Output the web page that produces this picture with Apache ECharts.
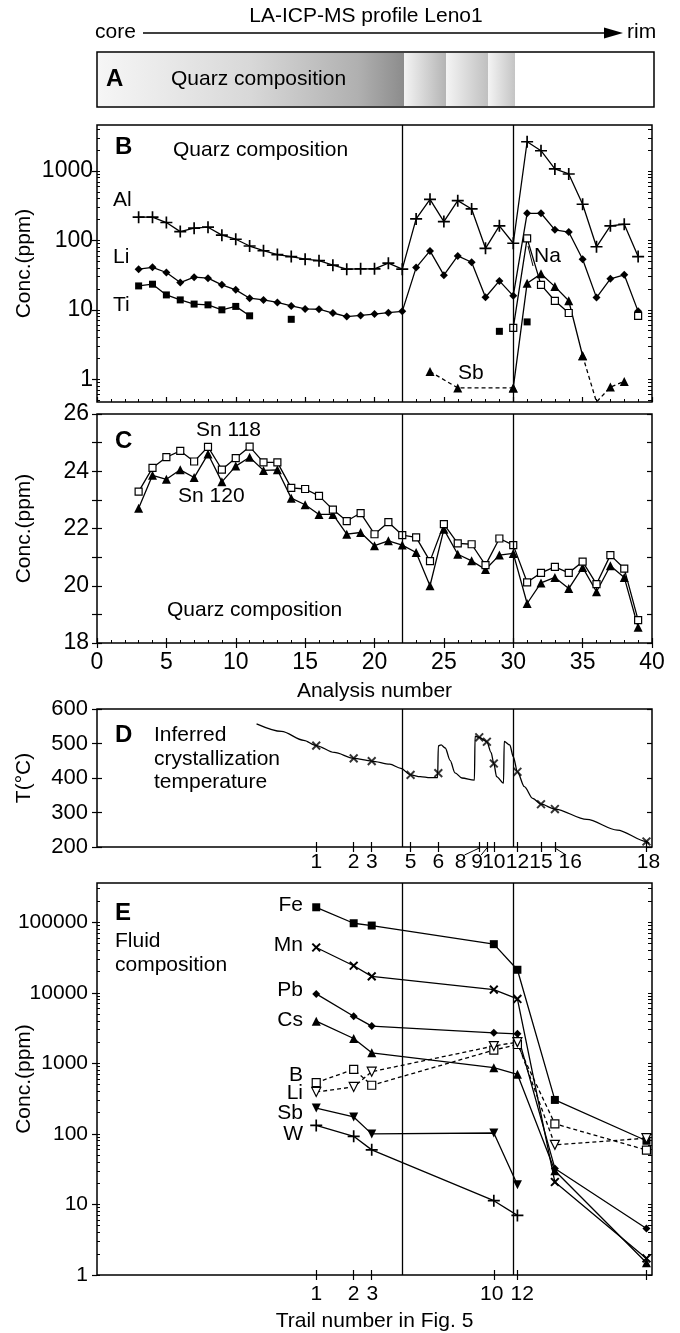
<!DOCTYPE html>
<html><head><meta charset="utf-8">
<script src="https://cdn.jsdelivr.net/npm/echarts@6/dist/echarts.min.js"></script>
<style>html,body{margin:0;padding:0;background:#fff}#c{width:680px;height:1333px}</style>
</head><body><div id="c"></div>
<script>
// ---------------- DATA ----------------
// Panel B / C : analysis numbers along the LA-ICP-MS profile
const analysis = [3,4,5,6,7,8,9,10,11,12,13,14,15,16,17,18,19,20,21,22,23,24,25,26,27,28,29,30,31,32,33,34,35,36,37,38,39];
const bAl = [216,216,181,134,150,155,119,104,83,71,62.5,58.5,53.6,51,44,38.5,39,39,47,38.5,204,391,187,374,284,77,162,91,2640,1960,1070,906,332,81,162,171,58.5];
const bLi = [38.5,41,34.5,24.7,29.5,28.6,22.9,19.4,14.7,13.9,12.8,11.4,10.3,10.2,9.0,8.0,8.3,8.7,9.1,9.5,40.6,70.6,31.6,59.8,48.5,15.2,26.1,15.9,246,246,142,132,53.6,15,28,32,9.5];
const bTi = [22.1,23.4,16.4,13.9,12.1,11.8,10,11.2,8.2,null,null,7.3,null,null,null,null,null,null,null,null,null,null,null,null,null,null,4.9,null,6.7,null,null,null,null,null,null,null,null];
const bNa = [null,null,null,null,null,null,null,null,null,null,null,null,null,null,null,null,null,null,null,null,null,null,null,null,null,null,null,5.5,107,22.9,13.5,9.0,null,null,null,null,8.2];
const bSbX = [24,26,30,31,32,33,34,35,36,37,38];
const bSbY = [1.29,0.75,0.75,24.2,33,21.6,13.5,2.18,0.47,0.77,0.93];
const cSn118 = [23.29,24.12,24.49,24.71,24.34,24.85,24.06,24.46,24.86,24.31,24.31,23.42,23.38,23.14,22.66,22.26,22.54,21.8,22.22,21.77,21.69,20.86,22.15,21.48,21.45,20.72,21.65,21.42,20.12,20.45,20.66,20.45,20.84,20.06,21.07,20.6,18.8];
const cSn120 = [22.71,23.86,23.72,24.05,23.78,24.6,23.63,24.18,24.49,24.03,24.05,23.06,22.83,22.49,22.49,21.8,21.86,21.4,21.57,21.42,21.16,20.0,21.97,21.1,20.87,20.57,21.07,21.13,19.38,20.1,20.29,19.9,20.64,19.79,20.7,20.29,18.55];
const dividers = [22, 30];
// Panel D : inferred crystallization temperature
const dCurveX = [11.5,13.3,14.9,15.8,17.1,18.5,19.8,21.1,21.9,22.6,23.3,24.0,24.55,24.6,24.8,25.1,25.45,25.8,26.3,27.2,27.25,27.55,28.1,28.4,28.6,28.8,29.3,29.35,29.75,30.0,30.3,30.8,31.4,32.0,33.0,35.3,37.5,39.6,39.8];
const dCurveT = [557,535,509,494,474,457,449,440,428,409,404,401,401,493,496,487,451,415,400,394,521,518,505,474,442,404,385,506,496,462,418,375,341,324,310,280,249,216,210];
const dTrail = ['1','2','3','5','6','8','9','10','12','15','16','18'];
const dTrailPos = [15.8,18.5,19.8,22.6,24.6,27.55,28.1,28.6,30.3,32.0,33.0,39.6];
const dTrailT = [494,457,449,409,414,518,505,442,418,324,310,216];
const dTrailLabelPos = [15.8,18.5,19.8,22.6,24.6,26.2,27.4,28.6,30.3,32.0,34.1,39.75];
// Panel E : fluid composition per trail
const eTrail = ['1','2','3','10','12','16','18'];
const eTrailPos = [15.8,18.5,19.8,28.6,30.3,33.0,39.6];
const eAxisTrail = ['1','2','3','10','12'];
const eAxisLabelPos = [15.8,18.5,19.85,28.45,30.65];
const eTickPos = [15.8,18.5,19.8,28.6,30.3,39.6];
const eFe = [163000,96800,89800,48900,21200,303,80];
const eMn = [43900,24200,17100,11100,8180,20.8,1.72];
const ePb = [9640,4660,3370,2710,2620,32.4,4.56];
const eCs = [3960,2250,1410,869,700,30,1.49];
const eB  = [533,822,489,1540,1850,139,59];
const eLi = [393,463,762,1760,2000,70,87];
const eSb = [232,174,100,103,19,null,null];
const eW  = [132,92.5,59.4,11.3,7.0,null,null];

// ---------------- STYLE HELPERS ----------------
const FONT = "'Liberation Sans', Arial, Helvetica, sans-serif";
const txt = {color:'#000', fontFamily:FONT, fontSize:21};
const tk = s => ({color:'#000', fontFamily:FONT, fontSize:s});
const LS = {color:'#000', width:1.2};
const PLUS = 'path://M-0.7,-5L0.7,-5L0.7,-0.7L5,-0.7L5,0.7L0.7,0.7L0.7,5L-0.7,5L-0.7,0.7L-5,0.7L-5,-0.7L-0.7,-0.7Z';
const CROSS = 'path://M-0.9,-5L0.9,-5L0.9,-0.9L5,-0.9L5,0.9L0.9,0.9L0.9,5L-0.9,5L-0.9,0.9L-5,0.9L-5,-0.9L-0.9,-0.9Z';
const pairs = (xs, ys) => xs.map((x, i) => [x, ys[i]]);
const decadeFmt = v => { const l = Math.log10(v); return Math.abs(l - Math.round(l)) < 1e-6 ? String(Math.round(v)) : ''; };
function logTicks(min, max, all) {
  const out = [];
  for (let e = Math.floor(Math.log10(min)); e <= Math.ceil(Math.log10(max)); e++) {
    for (let m = 1; m < 10; m++) {
      if (!all && m > 1) continue;
      const v = m * Math.pow(10, e);
      if (v >= min * 0.999 && v <= max * 1.001) out.push(v);
    }
  }
  return out;
}
function xAx(grid, o) {
  return Object.assign({type:'value', gridIndex:grid, min:0, max:40, position:'bottom',
    axisLine:{show:false}, splitLine:{show:false}, axisLabel:{show:false},
    axisTick:{show:false}, minorTick:{show:false}, nameMoveOverlap:false}, o);
}
function yAx(grid, o) {
  return Object.assign({type:'value', gridIndex:grid, position:'left',
    axisLine:{show:false}, splitLine:{show:false}, axisLabel:{show:false},
    axisTick:{show:false}, minorTick:{show:false}, nameMoveOverlap:false}, o);
}
const BMIN = 0.47, BMAX = 4600, EMIN = 1, EMAX = 360000;
const gridBase = {left:97, width:555, show:true, borderColor:'#000', borderWidth:1.5,
  backgroundColor:'transparent', containLabel:false, outerBoundsMode:'none'};

const dLabelMap = {};
dTrailLabelPos.forEach((p, i) => dLabelMap[p.toFixed(2)] = dTrail[i]);
const eLabelMap = {};
eAxisLabelPos.forEach((p, i) => eLabelMap[p.toFixed(2)] = eAxisTrail[i]);

const divider = {silent:true, symbol:'none', label:{show:false}, lineStyle:{color:'#000', type:'solid', width:1.3},
  data: dividers.map(v => ({xAxis:v}))};

function lineSeries(name, xi, yi, data, sym, o) {
  return Object.assign({type:'line', name, xAxisIndex:xi, yAxisIndex:yi, data,
    symbol:sym.symbol, symbolSize:sym.size, symbolRotate:sym.rotate || 0, showSymbol:true,
    itemStyle:{color: sym.open ? '#fff' : '#000', borderColor:'#000', borderWidth: sym.open ? 1.2 : 0},
    lineStyle:{color:'#000', width:1.3, type: sym.dash ? [4,3] : 'solid'},
    connectNulls:false, animation:false, z:3}, o || {});
}
const S = {
  plus:{symbol:PLUS, size:12}, cross:{symbol:CROSS, size:11, rotate:45},
  diamond:{symbol:'diamond', size:8}, sq:{symbol:'rect', size:7}, osq:{symbol:'rect', size:7, open:true},
  tri:{symbol:'triangle', size:9}, dtri:{symbol:'triangle', size:9, rotate:180},
  odtri:{symbol:'triangle', size:9, rotate:180, open:true}
};

// ---------------- SERIES ----------------
const series = [];
// B
series.push(lineSeries('Al', 0, 0, pairs(analysis, bAl), S.plus, {markLine: divider}));
series.push(lineSeries('Li', 0, 0, pairs(analysis, bLi), S.diamond));
series.push(lineSeries('Ti', 0, 0, pairs(analysis, bTi), S.sq));
series.push(lineSeries('Na', 0, 0, pairs(analysis, bNa), S.osq));
const sbAll = pairs(bSbX, bSbY).map((p, i) => (bSbY[i] <= BMIN ? {value:p, symbol:'none'} : p));
series.push(lineSeries('Sb', 0, 0, sbAll.slice(0, 3), Object.assign({}, S.tri, {dash:true})));
series.push(lineSeries('Sb', 0, 0, sbAll.slice(2, 8), S.tri));
series.push(lineSeries('Sb', 0, 0, sbAll.slice(7), Object.assign({}, S.tri, {dash:true})));
// C
series.push(lineSeries('Sn 120', 1, 3, pairs(analysis, cSn120), S.tri, {markLine: divider}));
series.push(lineSeries('Sn 118', 1, 3, pairs(analysis, cSn118), S.osq));
// D
series.push({type:'line', name:'T', xAxisIndex:3, yAxisIndex:6, data:pairs(dCurveX, dCurveT), showSymbol:false, symbol:'none',
  smooth:0.3, smoothMonotone:'x', lineStyle:{color:'#000', width:1.3}, animation:false, markLine: divider});
series.push({type:'scatter', name:'trail', xAxisIndex:3, yAxisIndex:6, data:pairs(dTrailPos, dTrailT),
  symbol:CROSS, symbolSize:11, symbolRotate:45, itemStyle:{color:'#000'}, animation:false, z:4});
// E
series.push(lineSeries('Fe', 5, 9, pairs(eTrailPos, eFe), Object.assign({}, S.sq, {size:8}), {markLine: divider}));
series.push(lineSeries('Mn', 5, 9, pairs(eTrailPos, eMn), S.cross));
series.push(lineSeries('Pb', 5, 9, pairs(eTrailPos, ePb), S.diamond));
series.push(lineSeries('Cs', 5, 9, pairs(eTrailPos, eCs), S.tri));
series.push(lineSeries('B', 5, 9, pairs(eTrailPos, eB), Object.assign({}, S.osq, {dash:true, size:8})));
series.push(lineSeries('Li', 5, 9, pairs(eTrailPos, eLi), Object.assign({}, S.odtri, {dash:true})));
series.push(lineSeries('Sb', 5, 9, pairs(eTrailPos, eSb), S.dtri));
series.push(lineSeries('W', 5, 9, pairs(eTrailPos, eW), S.plus));

const tickOut = {show:true, inside:false, length:5, lineStyle:LS};
const tickIn = {show:true, inside:true, length:5, lineStyle:LS};
const minorIn = {show:true, splitNumber:5, length:3, lineStyle:{color:'#000', width:1}};
const nameY = {name:'Conc.(ppm)', nameLocation:'middle', nameRotate:90, nameGap:62, nameTextStyle:txt};

const option = {
  animation:false,
  backgroundColor:'#fff',
  grid:[
    Object.assign({top:125, height:277}, gridBase),
    Object.assign({top:414, height:229}, gridBase),
    Object.assign({top:709, height:138}, gridBase),
    Object.assign({top:883, height:392}, gridBase)
  ],
  xAxis:[
    xAx(0, {interval:5, axisTick:tickIn, minorTick:minorIn}),
    xAx(1, {interval:5, axisTick:tickOut, axisLabel:Object.assign({show:true, margin:8, hideOverlap:false}, tk(23)),
      name:'Analysis number', nameLocation:'middle', nameGap:38, nameTextStyle:txt}),
    xAx(1, {interval:5, axisTick:tickIn, minorTick:minorIn}),
    xAx(2, {axisTick:Object.assign({customValues:dTrailPos}, tickOut),
      axisLabel:Object.assign({show:true, margin:5, hideOverlap:false, customValues:dTrailLabelPos, formatter:v => dLabelMap[v.toFixed(2)] || ''}, tk(21))}),
    xAx(2, {axisTick:Object.assign({customValues:dTrailPos}, tickIn)}),
    xAx(3, {axisTick:Object.assign({customValues:eTickPos}, tickOut),
      axisLabel:Object.assign({show:true, margin:9, hideOverlap:false, customValues:eAxisLabelPos, formatter:v => eLabelMap[v.toFixed(2)] || ''}, tk(21)),
      name:'Trail number in Fig. 5', nameLocation:'middle', nameGap:36, nameTextStyle:txt}),
    xAx(3, {axisTick:Object.assign({customValues:eTickPos}, tickIn)})
  ],
  yAxis:[
    yAx(0, Object.assign({type:'log', logBase:10, min:BMIN, max:BMAX,
      axisLabel:Object.assign({show:true, margin:4, formatter:decadeFmt}, tk(23)),
      axisTick:Object.assign({customValues:logTicks(BMIN, BMAX, false)}, tickOut)}, nameY)),
    yAx(0, {type:'log', logBase:10, min:BMIN, max:BMAX, axisTick:{show:true, inside:true, length:3, customValues:logTicks(BMIN, BMAX, true), lineStyle:{color:'#000', width:1}}}),
    yAx(0, {type:'log', logBase:10, min:BMIN, max:BMAX, position:'right', axisTick:{show:true, inside:true, length:4, customValues:logTicks(BMIN, BMAX, true), lineStyle:{color:'#000', width:1}}}),
    yAx(1, Object.assign({min:18, max:26, interval:1,
      axisLabel:Object.assign({show:true, margin:8, formatter:v => (v % 2 === 0 ? String(v) : '')}, tk(23)),
      axisTick:tickOut}, nameY)),
    yAx(1, {min:18, max:26, interval:1, axisTick:tickIn}),
    yAx(1, {min:18, max:26, interval:1, position:'right', axisTick:tickIn}),
    yAx(2, {min:200, max:600, interval:100, axisLabel:Object.assign({show:true, margin:9}, tk(22)), axisTick:tickOut,
      name:'T(°C)', nameLocation:'middle', nameRotate:90, nameGap:62, nameTextStyle:txt}),
    yAx(2, {min:200, max:600, interval:100, axisTick:tickIn}),
    yAx(2, {min:200, max:600, interval:100, position:'right', axisTick:tickIn}),
    yAx(3, Object.assign({type:'log', logBase:10, min:EMIN, max:EMAX,
      axisLabel:Object.assign({show:true, margin:9, formatter:decadeFmt}, tk(21)),
      axisTick:Object.assign({customValues:logTicks(EMIN, EMAX, false)}, tickOut)}, nameY)),
    yAx(3, {type:'log', logBase:10, min:EMIN, max:EMAX, axisTick:{show:true, inside:true, length:3, customValues:logTicks(EMIN, EMAX, true), lineStyle:{color:'#000', width:1}}}),
    yAx(3, {type:'log', logBase:10, min:EMIN, max:EMAX, position:'right', axisTick:{show:true, inside:true, length:4, customValues:logTicks(EMIN, EMAX, true), lineStyle:{color:'#000', width:1}}})
  ],
  series
};

const chart = echarts.init(document.getElementById('c'), null, {renderer:'canvas', width:680, height:1333});
chart.setOption(option);

// ---------------- ANNOTATIONS ----------------
function T(text, x, y, o) {
  o = o || {};
  return {type:'text', z:100, style:{text, x, y, fill:'#000',
    font:(o.bold ? 'bold ' : '') + (o.size || 21) + 'px ' + FONT,
    textAlign:o.align || 'left', textVerticalAlign:'middle', align:o.align || 'left', verticalAlign:'middle'}};
}
function L(x1, y1, x2, y2, w) {
  return {type:'line', z:100, shape:{x1, y1, x2, y2}, style:{stroke:'#000', lineWidth:w || 1.2}};
}
const px = (axisIdx, v) => chart.convertToPixel({xAxisIndex:axisIdx}, v);
const graphic = [
  T('LA-ICP-MS profile Leno1', 366, 16, {align:'center'}),
  T('core', 95, 32),
  L(143, 33, 606, 33, 1.5),
  {type:'polygon', z:100, shape:{points:[[604,27.5],[623,33],[604,38.5]]}, style:{fill:'#000'}},
  T('rim', 627, 32),
  {type:'rect', z:90, shape:{x:98, y:53, width:306, height:53},
    style:{fill:{type:'linear', x:0, y:0, x2:1, y2:0, colorStops:[{offset:0, color:'#f6f6f6'},{offset:0.5, color:'#d8d8d8'},{offset:0.85, color:'#b0b0b0'},{offset:1, color:'#8c8c8c'}]}}},
  {type:'rect', z:90, shape:{x:404, y:53, width:42, height:53},
    style:{fill:{type:'linear', x:0, y:0, x2:1, y2:0, colorStops:[{offset:0, color:'#f4f4f4'},{offset:1, color:'#b4b4b4'}]}}},
  {type:'rect', z:90, shape:{x:446, y:53, width:42, height:53},
    style:{fill:{type:'linear', x:0, y:0, x2:1, y2:0, colorStops:[{offset:0, color:'#f4f4f4'},{offset:1, color:'#c0c0c0'}]}}},
  {type:'rect', z:90, shape:{x:488, y:53, width:27, height:53},
    style:{fill:{type:'linear', x:0, y:0, x2:1, y2:0, colorStops:[{offset:0, color:'#f4f4f4'},{offset:1, color:'#c4c4c4'}]}}},
  {type:'rect', z:95, shape:{x:97, y:52, width:557, height:55}, style:{fill:'none', stroke:'#000', lineWidth:1.5}},
  T('A', 106, 79, {bold:true, size:24}),
  T('Quarz composition', 171, 79),
  // B
  T('B', 115, 147, {bold:true, size:24}),
  T('Quarz composition', 173, 150),
  T('Al', 113, 200), T('Li', 113, 257), T('Ti', 113, 305),
  T('Na', 534, 256), L(528, 246, 533, 266, 1),
  T('Sb', 458, 373),
  // C
  T('C', 115, 441, {bold:true, size:24}),
  T('Sn 118', 196, 430), T('Sn 120', 178, 496),
  T('Quarz composition', 167, 610),
  // D
  T('D', 115, 735, {bold:true, size:24}),
  T('Inferred', 154, 735), T('crystallization', 154, 759), T('temperature', 154, 782),
  // E
  T('E', 115, 913, {bold:true, size:24}),
  T('Fluid', 115, 941), T('composition', 115, 965),
  T('Fe', 303, 905, {align:'right'}), T('Mn', 303, 945, {align:'right'}),
  T('Pb', 303, 990, {align:'right'}), T('Cs', 303, 1020, {align:'right'}),
  T('B', 303, 1075, {align:'right'}), T('Li', 303, 1093, {align:'right'}),
  T('Sb', 303, 1113, {align:'right'}), T('W', 303, 1134, {align:'right'})
];
// leader lines from displaced D-axis labels to their ticks
[5, 6, 10].forEach(i => {
  const tx = px(3, dTrailPos[i]), lx = px(3, dTrailLabelPos[i]);
  graphic.push(L(tx, 848, lx + (lx < tx ? 4 : -4), 855, 1));
});
chart.setOption({graphic});
</script></body></html>
